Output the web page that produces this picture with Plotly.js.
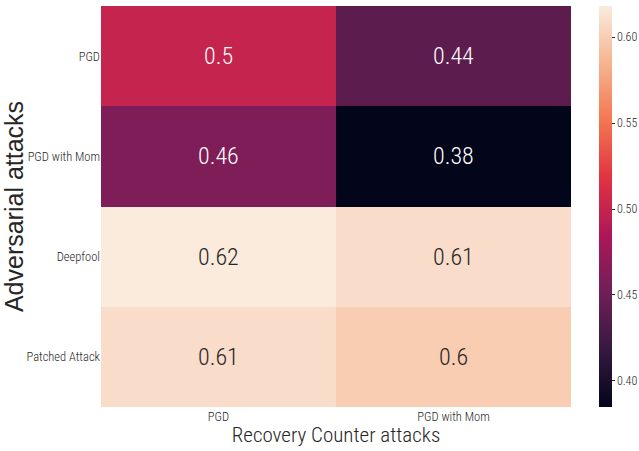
<!DOCTYPE html>
<html>
<head>
<meta charset="utf-8">
<script src="https://cdn.plot.ly/plotly-3.0.1.min.js"></script>
<style>html,body{margin:0;padding:0;background:#fff;}#chart{width:639px;height:451px;}</style>
</head>
<body>
<div id="chart"></div>
<script>
const recoveryAttacks = ["PGD", "PGD with Mom"];
const adversarialAttacks = ["PGD", "PGD with Mom", "Deepfool", "Patched Attack"];
const pgdRow = [0.50, 0.44];
const pgdMomRow = [0.46, 0.38];
const deepfoolRow = [0.62, 0.61];
const patchedRow = [0.61, 0.60];
const colorbarTicks = [0.40, 0.45, 0.50, 0.55, 0.60];

const z = [pgdRow, pgdMomRow, deepfoolRow, patchedRow];
const text = z.map(r => r.map(v => String(Number(v.toFixed(2)))));

const rocket = [
  [0.0, "#03051a"],
  [0.143, "#35193e"],
  [0.286, "#701f57"],
  [0.429, "#ad1759"],
  [0.571, "#e13342"],
  [0.714, "#f37651"],
  [0.857, "#f6b48f"],
  [1.0, "#faebdd"]
];

const narrow = '"Liberation Sans Narrow", "Arial Narrow", "Roboto Condensed", "Liberation Sans", Arial, sans-serif';

const annotations = [];
z.forEach((row, i) => row.forEach((v, j) => {
  annotations.push({
    x: recoveryAttacks[j], y: adversarialAttacks[i], text: text[i][j],
    showarrow: false, xref: "x", yref: "y",
    font: {family: narrow, size: 24, weight: 300, color: v > 0.55 ? "#262626" : "#ffffff"}
  });
}));

const trace = {
  type: "heatmap",
  x: recoveryAttacks,
  y: adversarialAttacks,
  z: z,
  zmin: 0.3848,
  zmax: 0.6182,
  colorscale: rocket,
  xgap: 0, ygap: 0,
  hoverinfo: "skip",
  colorbar: {
    x: 1.06, xanchor: "left", xref: "paper", xpad: 0, ypad: 0,
    y: 0.5, yanchor: "middle", len: 1, lenmode: "fraction",
    thickness: 13, outlinewidth: 0,
    tickvals: colorbarTicks, ticktext: colorbarTicks.map(v => v.toFixed(2)),
    ticks: "outside", ticklen: 3, tickwidth: 1, tickcolor: "#262626",
    tickfont: {family: narrow, size: 12, weight: 300, color: "#262626"}
  }
};

const layout = {
  width: 639, height: 451,
  margin: {l: 101, r: 68, t: 6, b: 44, autoexpand: false},
  paper_bgcolor: "#ffffff", plot_bgcolor: "#ffffff",
  xaxis: {
    showgrid: false, zeroline: false, showline: false, ticks: "",
    tickfont: {family: narrow, size: 12.5, weight: 300, color: "#262626"},
    title: {text: "Recovery Counter attacks", font: {family: narrow, size: 21, weight: 300, color: "#262626"}, standoff: 3}
  },
  yaxis: {
    autorange: "reversed",
    showgrid: false, zeroline: false, showline: false, ticks: "",
    tickfont: {family: narrow, size: 12.5, weight: 300, color: "#262626"},
    title: {text: "Adversarial attacks", font: {family: '"Liberation Sans", Arial, sans-serif', size: 25, color: "#262626"}, standoff: 11}
  },
  annotations: annotations
};

Plotly.newPlot("chart", [trace], layout, {displayModeBar: false, staticPlot: true});
</script>
</body>
</html>
